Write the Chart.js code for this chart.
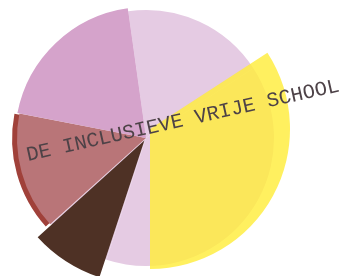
<!DOCTYPE html>
<html>
<head>
<meta charset="utf-8">
<script src="https://cdn.jsdelivr.net/npm/chart.js@4/dist/chart.umd.min.js"></script>
<style>
  html, body { margin:0; padding:0; background:#fff; overflow:hidden; }
  #logo { position:relative; width:357px; height:276px; overflow:hidden; }
  #logo canvas, #logo svg { position:absolute; }
  #taart { left:1px; top:-7px; }
  #geel { left:8px; top:-13px; }
  #tekst { left:0; top:0; }
</style>
</head>
<body>
<div id="logo">
  <canvas id="taart" width="290" height="290"></canvas>
  <canvas id="geel" width="284" height="284"></canvas>
  <svg id="tekst" width="357" height="276">
    <text id="naam" x="28" y="161" transform="rotate(-12.6 28 161)"
      font-family="Liberation Mono, DejaVu Sans Mono, monospace" font-size="20.5"
      fill="#4d4247" textLength="320" lengthAdjust="spacing"></text>
  </svg>
</div>
<script>
// segmenten met de klok mee, beginnend bij 352 graden (net links van boven)
const segmenten = ['lila', 'geel', 'lila', 'bruin', 'oudroze', 'mauve'];
const hoeken = [65, 123, 18, 30, 53, 71]; // graden per segment
const bovenlaag = [0, 0, 0, 141, 129, 131]; // straal van de losse punten
const onderlaag = [128, 128, 128, 128, 130, 128]; // lila cirkel + donkerrode rand
const geelLaag = [0, 140, 0, 0, 0, 0];
const naam = 'DE INCLUSIEVE VRIJE SCHOOL';

document.getElementById('naam').textContent = naam;

function taart(id, max, lagen) {
  new Chart(document.getElementById(id), {
    type: 'polarArea',
    data: {
      labels: segmenten,
      datasets: lagen.map(l => ({
        data: l.data,
        backgroundColor: l.kleuren,
        offset: l.offset,
        angle: ctx => hoeken[ctx.dataIndex],
        borderWidth: 0
      }))
    },
    options: {
      responsive: false,
      animation: false,
      events: [],
      plugins: { legend: { display: false }, tooltip: { enabled: false } },
      scales: {
        r: {
          min: 0, max: max, startAngle: -8,
          ticks: { display: false },
          grid: { display: false },
          angleLines: { display: false },
          pointLabels: { display: false }
        }
      }
    }
  });
}

// hoofdtaart: bovenste laag eerst (wordt als laatste getekend)
taart('taart', 145, [
  { data: bovenlaag, kleuren: ['#e5cbe3', '#e5cbe3', '#e5cbe3', '#4e3125', '#b97578', '#d5a3cb'], offset: [0, 0, 0, 12, 0, 0] },
  { data: onderlaag, kleuren: ['#e5cbe3', '#e5cbe3', '#e5cbe3', '#e5cbe3', '#a0413a', '#e5cbe3'], offset: [0, 0, 0, 0, 8, 0] }
]);

// gele punt ligt iets verschoven, half doorzichtig over de lila cirkel
taart('geel', 142, [
  { data: geelLaag, kleuren: ['rgba(0,0,0,0)', 'rgba(255,237,60,0.82)', 'rgba(0,0,0,0)', 'rgba(0,0,0,0)', 'rgba(0,0,0,0)', 'rgba(0,0,0,0)'], offset: [0, 0, 0, 0, 0, 0] }
]);
</script>
</body>
</html>
